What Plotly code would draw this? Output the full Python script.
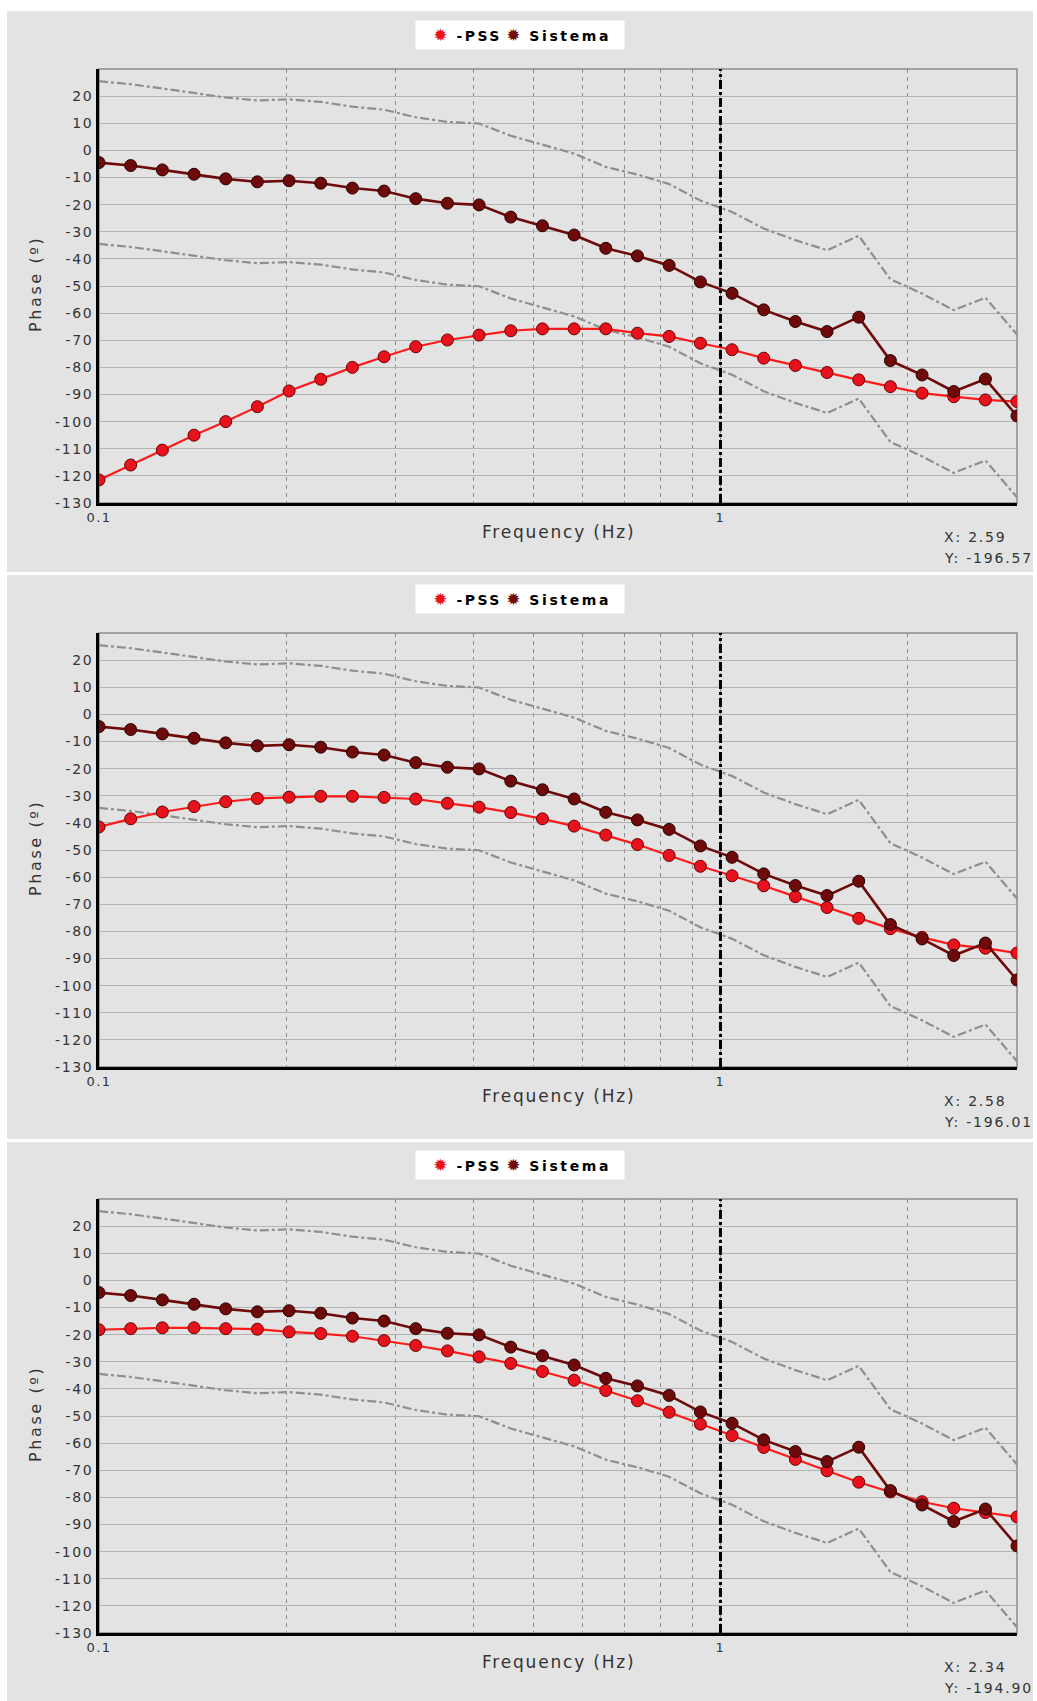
import plotly.graph_objects as go

# Frequencies (Hz) of the sweep points
freq = [0.1, 0.11245, 0.12646, 0.14220, 0.15991, 0.17982, 0.20221, 0.22739,
        0.25570, 0.28754, 0.32334, 0.36360, 0.40888, 0.45979, 0.51704, 0.58142,
        0.65382, 0.73523, 0.82678, 0.92830, 1.0438, 1.1737, 1.3199, 1.4842,
        1.6690, 1.8768, 2.1105, 2.3733, 2.6688, 3.0]

# System phase (deg), shared by all three cases
sistema = [-4.5, -5.6, -7.2, -8.8, -10.5, -11.6, -11.2, -12.1, -13.9, -15.0,
           -17.8, -19.5, -20.1, -24.6, -27.8, -31.2, -36.1, -38.9, -42.4, -48.5,
           -52.7, -58.8, -63.1, -66.8, -61.5, -77.5, -82.8, -88.9, -84.3, -97.9]

# Tolerance band around the system phase
banda_sup = [25.5, 24.4, 22.8, 21.2, 19.5, 18.4, 18.8, 17.9, 16.1, 15.0,
             12.2, 10.5, 9.9, 5.4, 2.2, -1.2, -6.1, -8.9, -12.4, -18.5,
             -22.7, -28.8, -33.1, -36.8, -31.5, -47.5, -52.8, -58.9, -54.3, -67.9]
banda_inf = [-34.5, -35.6, -37.2, -38.8, -40.5, -41.6, -41.2, -42.1, -43.9, -45.0,
             -47.8, -49.5, -50.1, -54.6, -57.8, -61.2, -66.1, -68.9, -72.4, -78.5,
             -82.7, -88.8, -93.1, -96.8, -91.5, -107.5, -112.8, -118.9, -114.3, -127.9]

# -PSS phase (deg) for each of the three tuning cases
pss_1 = [-121.5, -116.0, -110.5, -105.0, -100.0, -94.5, -88.7, -84.4, -80.0, -76.1,
         -72.4, -69.9, -68.1, -66.5, -65.8, -65.8, -65.8, -67.4, -68.6, -71.1,
         -73.5, -76.6, -79.3, -81.9, -84.6, -87.1, -89.5, -90.8, -92.0, -92.6]
pss_2 = [-41.5, -38.5, -36.0, -34.0, -32.2, -31.0, -30.5, -30.2, -30.2, -30.6,
         -31.2, -32.8, -34.2, -36.2, -38.5, -41.2, -44.5, -48.0, -52.0, -56.0,
         -59.5, -63.2, -67.2, -71.2, -75.2, -79.0, -82.2, -85.0, -86.2, -88.0]
pss_3 = [-18.2, -17.8, -17.5, -17.5, -17.8, -18.0, -19.0, -19.6, -20.6, -22.2,
         -24.0, -26.0, -28.2, -30.6, -33.6, -36.8, -40.6, -44.4, -48.6, -53.0,
         -57.2, -61.6, -66.0, -70.2, -74.4, -78.0, -81.6, -84.0, -85.6, -87.2]
pss_cases = [pss_1, pss_2, pss_3]

# Cursor readouts shown under each panel
cursor_x = ["2.59", "2.58", "2.34"]
cursor_y = ["-196.57", "-196.01", "-194.90"]

y_ticks = list(range(-130, 31, 10))
x_ticks = [0.1, 0.2, 0.3, 0.4, 0.5, 0.6, 0.7, 0.8, 0.9, 1, 2, 3]
x_tick_text = ["0.1", "", "", "", "", "", "", "", "", "1", "", ""]

W, H = 1037, 1701
RED = "#e8121c"
RED_EDGE = "#6a0000"
DARK = "#6e0a0a"
DARK_EDGE = "#2a0000"
BG = "#e3e3e3"
TXT = "#333333"
FONT = "DejaVu Sans"


def px(x):
    return x / W


def py(y):
    return 1 - y / H


def spaced(text, ls):
    return f'<span style="letter-spacing:{ls}px">{text}</span>'


# panel geometry (pixels from top)
offsets = [0, 564, 1130]
bg_spans = [(11, 572), (575, 1139), (1142, 1701)]
PLOT_LEFT, PLOT_RIGHT = 99, 1017
PLOT_TOP, PLOT_BOTTOM = 69, 503

fig = go.Figure()
shapes = []
annotations = []

for i, (off, pss) in enumerate(zip(offsets, pss_cases)):
    n = "" if i == 0 else str(i + 1)
    xa, ya = "x" + n, "y" + n

    for band in (banda_sup, banda_inf):
        fig.add_trace(go.Scatter(
            x=freq, y=band, xaxis=xa, yaxis=ya, mode="lines",
            line=dict(color="#8e8e8e", width=2.2, dash="dashdot"),
            showlegend=False, hoverinfo="skip"))

    fig.add_trace(go.Scatter(
        x=freq, y=pss, xaxis=xa, yaxis=ya, mode="lines+markers", name="-PSS",
        line=dict(color="#ff1a1a", width=2.2),
        marker=dict(symbol="circle", size=12, color=RED,
                    line=dict(color=RED_EDGE, width=1)),
        showlegend=False))
    fig.add_trace(go.Scatter(
        x=freq, y=sistema, xaxis=xa, yaxis=ya, mode="lines+markers", name="Sistema",
        line=dict(color=DARK, width=2.6),
        marker=dict(symbol="circle", size=12, color=DARK,
                    line=dict(color=DARK_EDGE, width=1)),
        showlegend=False))

    top, bot = PLOT_TOP + off, PLOT_BOTTOM + off
    fig.layout["xaxis" + n] = dict(
        type="log", range=[-1, 0.47712], domain=[px(PLOT_LEFT), px(PLOT_RIGHT)],
        anchor=ya, tickvals=x_ticks, automargin=False,
        ticktext=[spaced(t, 1.5) if t else "" for t in x_tick_text], ticks="",
        showgrid=True, gridcolor="#8a8a8a", griddash="4px,4px", gridwidth=1,
        showline=True, linecolor="black", linewidth=3, zeroline=False,
        tickfont=dict(family=FONT, size=13, color=TXT))
    fig.layout["yaxis" + n] = dict(
        range=[-130, 30], domain=[py(bot), py(top)], anchor=xa,
        tickvals=y_ticks, automargin=False,
        ticktext=[spaced(str(v), 1.6) if v < 30 else "" for v in y_ticks],
        ticks="", showgrid=True, gridcolor="#b2b2b2", gridwidth=1,
        showline=True, linecolor="black", linewidth=3, zeroline=False,
        tickfont=dict(family=FONT, size=14, color=TXT))

    # panel background
    b0, b1 = bg_spans[i]
    shapes.append(dict(type="rect", xref="paper", yref="paper",
                       x0=px(7), x1=px(1033), y0=py(b1), y1=py(b0),
                       fillcolor=BG, line=dict(width=0), layer="below"))
    # thin frame on top/right of plot area
    shapes.append(dict(type="rect", xref=xa + " domain", yref=ya + " domain",
                       x0=0, x1=1, y0=0, y1=1,
                       line=dict(color="#8c8c8c", width=1.5), layer="below"))
    # reference line at 1 Hz
    shapes.append(dict(type="line", xref=xa, yref=ya + " domain",
                       x0=1, x1=1, y0=0, y1=1,
                       line=dict(color="black", width=3, dash="dashdot")))

    # legend box
    annotations.append(dict(
        xref="paper", yref="paper", x=px(520), y=py(35 + off),
        xanchor="center", yanchor="middle", showarrow=False,
        bgcolor="white", borderpad=4,
        text=(f'   <span style="color:{RED};font-size:17px">✹</span>  '
              f'<b>{spaced("-PSS", 2.4)}</b> '
              f'<span style="color:{DARK};font-size:17px">✹</span>  '
              f'<b>{spaced("Sistema", 2.6)}</b>  '),
        font=dict(family=FONT, size=14, color="black")))
    # axis titles
    annotations.append(dict(
        xref="paper", yref="paper", x=px(35), y=py(284 + off),
        xanchor="center", yanchor="middle", showarrow=False, textangle=-90,
        text=spaced("Phase (º)", 2.6), font=dict(family=FONT, size=16, color=TXT)))
    annotations.append(dict(
        xref="paper", yref="paper", x=px(558), y=py(532 + off),
        xanchor="center", yanchor="middle", showarrow=False,
        text=spaced("Frequency (Hz)", 1.8), font=dict(family=FONT, size=17, color=TXT)))
    # cursor readout
    annotations.append(dict(
        xref="paper", yref="paper", x=px(942), y=py(537 + off),
        xanchor="left", yanchor="middle", showarrow=False,
        text=spaced(f"X: {cursor_x[i]}", 1.8), font=dict(family=FONT, size=14, color=TXT)))
    annotations.append(dict(
        xref="paper", yref="paper", x=px(942), y=py(558 + off),
        xanchor="left", yanchor="middle", showarrow=False,
        text=spaced(f"Y: {cursor_y[i]}", 1.8), font=dict(family=FONT, size=14, color=TXT)))

fig.update_layout(
    width=W, height=H, margin=dict(l=0, r=0, t=0, b=0, autoexpand=False),
    paper_bgcolor="white", plot_bgcolor=BG,
    shapes=shapes, annotations=annotations, showlegend=False)

fig.write_html("out.html")
